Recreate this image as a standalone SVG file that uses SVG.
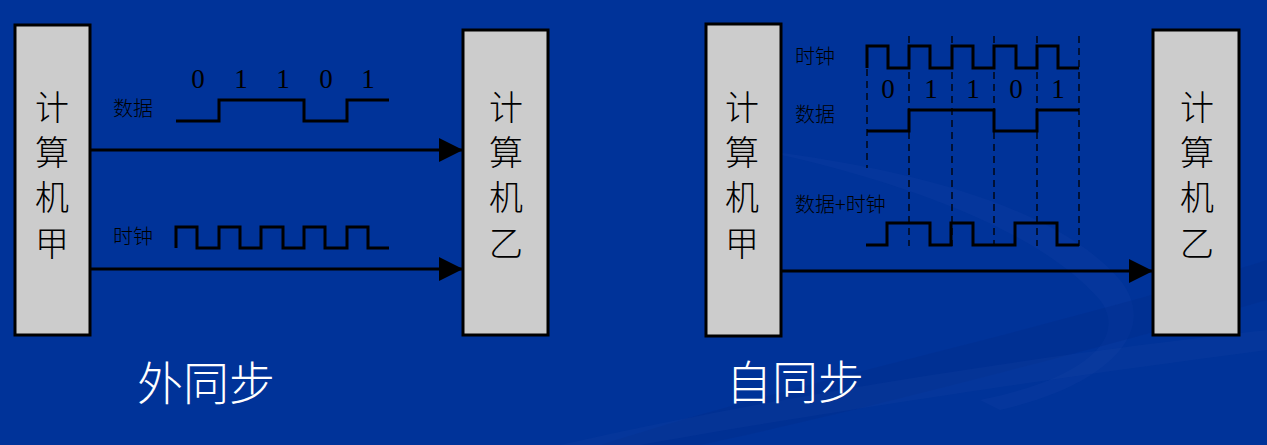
<svg xmlns="http://www.w3.org/2000/svg" width="1267" height="445" viewBox="0 0 1267 445">
  <style>
    .box { fill: #cccccc; stroke: #000000; stroke-width: 3; }
    .boxtxt { font-family: "Noto Sans CJK SC", sans-serif; font-size: 34px; font-weight: 300; fill: #000000; text-anchor: middle; }
    .lbl { font-family: "Noto Sans CJK SC", sans-serif; font-size: 20px; font-weight: 300; fill: #000000; }
    .dig { font-family: "Liberation Serif", "Noto Sans CJK SC", serif; font-size: 27px; fill: #000000; text-anchor: middle; }
    .wave { fill: none; stroke: #000000; stroke-width: 3; stroke-linejoin: miter; }
    .dash { fill: none; stroke: #000000; stroke-width: 1.3; stroke-dasharray: 7 5; }
    .conn { fill: none; stroke: #000000; stroke-width: 3; }
    .title { font-family: "Noto Sans CJK SC", sans-serif; font-size: 46px; font-weight: 300; fill: #ffffff; text-anchor: middle; }
  </style>
  <defs>
    <marker id="arrow" viewBox="0 0 24 24" refX="24" refY="12" markerWidth="24" markerHeight="24" markerUnits="userSpaceOnUse" orient="auto">
      <path d="M0,0 L24,12 L0,24 Z" fill="#000000"/>
    </marker>
  </defs>

  <!-- background -->
  <rect x="0" y="0" width="1267" height="445" fill="#003399"/>
  <g id="background-swooshes">
    <path d="M760,150 C900,180 1040,230 1100,300 C1130,340 1080,380 980,400 L1000,410 C1110,385 1160,330 1120,280 C1060,210 920,170 760,150 Z" fill="#1a47a8" opacity="0.2"/>
    <path d="M600,445 C800,380 1050,330 1267,260 L1267,300 C1060,360 820,420 700,445 Z" fill="#002a88" opacity="0.3"/>
    <path d="M560,445 C760,400 1000,360 1267,330 L1267,350 C1000,385 780,420 640,445 Z" fill="#1a47a8" opacity="0.18"/>
  </g>

  <!-- 外同步 panel -->
  <g id="node-jia-1">
    <rect class="box" x="15" y="25" width="75" height="310"/>
    <text class="boxtxt" x="52" y="120">计</text>
    <text class="boxtxt" x="52" y="165">算</text>
    <text class="boxtxt" x="52" y="210">机</text>
    <text class="boxtxt" x="52" y="256">甲</text>
  </g>
  <g id="node-yi-1">
    <rect class="box" x="463" y="30" width="85" height="305"/>
    <text class="boxtxt" x="506" y="120">计</text>
    <text class="boxtxt" x="506" y="165">算</text>
    <text class="boxtxt" x="506" y="210">机</text>
    <text class="boxtxt" x="506" y="256">乙</text>
  </g>
  <g id="signals-1">
    <text class="lbl" x="113" y="116">数据</text>
    <text class="dig" x="198" y="88">0</text>
    <text class="dig" x="241" y="88">1</text>
    <text class="dig" x="283" y="88">1</text>
    <text class="dig" x="326" y="88">0</text>
    <text class="dig" x="368" y="88">1</text>
    <path class="wave" d="M176,121 H219 V100 H304 V121 H347 V100 H389"/>
    <text class="lbl" x="113" y="244">时钟</text>
    <path class="wave" d="M176,248 V227 H197 V248 H219 V227 H240 V248 H261 V227 H283 V248 H304 V227 H325 V248 H347 V227 H368 V248 H389"/>
  </g>

  <!-- 自同步 panel -->
  <g id="node-jia-2">
    <rect class="box" x="706" y="24" width="75" height="312"/>
    <text class="boxtxt" x="742" y="120">计</text>
    <text class="boxtxt" x="742" y="165">算</text>
    <text class="boxtxt" x="742" y="210">机</text>
    <text class="boxtxt" x="742" y="256">甲</text>
  </g>
  <g id="node-yi-2">
    <rect class="box" x="1153" y="30" width="86" height="305"/>
    <text class="boxtxt" x="1197" y="120">计</text>
    <text class="boxtxt" x="1197" y="165">算</text>
    <text class="boxtxt" x="1197" y="210">机</text>
    <text class="boxtxt" x="1197" y="256">乙</text>
  </g>
  <g id="signals-2">
    <path class="dash" d="M867,45 V168"/>
    <path class="dash" d="M909,36 V246"/>
    <path class="dash" d="M952,36 V246"/>
    <path class="dash" d="M994,36 V246"/>
    <path class="dash" d="M1037,36 V246"/>
    <path class="dash" d="M1079,36 V246"/>
    <text class="lbl" x="795" y="64">时钟</text>
    <path class="wave" d="M867,68 V46 H888 V68 H909 V46 H930 V68 H952 V46 H973 V68 H994 V46 H1016 V68 H1037 V46 H1058 V68 H1079"/>
    <text class="dig" x="888" y="98">0</text>
    <text class="dig" x="931" y="98">1</text>
    <text class="dig" x="973" y="98">1</text>
    <text class="dig" x="1016" y="98">0</text>
    <text class="dig" x="1058" y="98">1</text>
    <text class="lbl" x="795" y="122">数据</text>
    <path class="wave" d="M867,131 H909 V110 H994 V131 H1037 V110 H1079"/>
    <text class="lbl" x="795" y="212">数据+时钟</text>
    <path class="wave" d="M866,245 H887 V223 H930 V245 H951 V223 H973 V245 H1015 V223 H1057 V245 H1079"/>
  </g>

  <g id="connectors">
    <line class="conn" x1="90" y1="150" x2="463" y2="150" marker-end="url(#arrow)"/>
    <line class="conn" x1="90" y1="269" x2="463" y2="269" marker-end="url(#arrow)"/>
    <line class="conn" x1="781" y1="271" x2="1153" y2="271" marker-end="url(#arrow)"/>
  </g>

  <g id="titles">
    <text class="title" x="206" y="400">外同步</text>
    <text class="title" x="795" y="399">自同步</text>
  </g>
</svg>
